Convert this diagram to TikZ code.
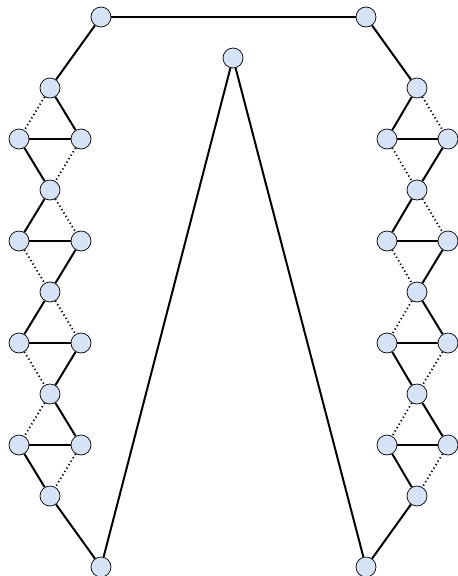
\documentclass[tikz,border=0pt]{standalone}
\begin{document}
\begin{tikzpicture}[x=1pt,y=-1pt,
  vtx/.style={circle,draw=black,line width=0.7pt,fill={rgb,255:red,214;green,226;blue,245},minimum size=20pt,inner sep=0pt},
  sol/.style={line width=2pt},
  dot/.style={line width=1.8pt,dash pattern=on 1.2pt off 2.8pt}]
\useasboundingbox (0,0) rectangle (458,576);
\node[vtx] (TL) at (101,17) {};
\node[vtx] (TR) at (366,17) {};
\node[vtx] (M) at (233,58) {};
\node[vtx] (BL) at (101,567) {};
\node[vtx] (BR) at (366,567) {};
% left chain
\foreach \i/\y in {1/88,2/190,3/292,4/394,5/496} \node[vtx] (L\i) at (50,\y) {};
\foreach \i/\y in {1/139,2/241,3/343,4/445} {
  \node[vtx] (La\i) at (19,\y) {};
  \node[vtx] (Lb\i) at (81,\y) {};
}
% right chain
\foreach \i/\y in {1/88,2/190,3/292,4/394,5/496} \node[vtx] (R\i) at (417,\y) {};
\foreach \i/\y in {1/139,2/241,3/343,4/445} {
  \node[vtx] (Ra\i) at (387,\y) {};
  \node[vtx] (Rb\i) at (448,\y) {};
}
\draw[sol] (TL) -- (TR);
\draw[sol] (M) -- (BL);
\draw[sol] (M) -- (BR);
\draw[sol] (TL) -- (L1);
\draw[sol] (L5) -- (BL);
\draw[sol] (TR) -- (R1);
\draw[sol] (R5) -- (BR);
% left
\draw[dot] (L1) -- (La1); \draw[sol] (L1) -- (Lb1); \draw[sol] (La1) -- (Lb1);
\draw[sol] (La1) -- (L2); \draw[dot] (Lb1) -- (L2);
\draw[sol] (L2) -- (La2); \draw[dot] (L2) -- (Lb2); \draw[sol] (La2) -- (Lb2);
\draw[dot] (La2) -- (L3); \draw[sol] (Lb2) -- (L3);
\draw[sol] (L3) -- (La3); \draw[dot] (L3) -- (Lb3); \draw[sol] (La3) -- (Lb3);
\draw[dot] (La3) -- (L4); \draw[sol] (Lb3) -- (L4);
\draw[dot] (L4) -- (La4); \draw[sol] (L4) -- (Lb4); \draw[sol] (La4) -- (Lb4);
\draw[sol] (La4) -- (L5); \draw[dot] (Lb4) -- (L5);
% right
\draw[sol] (R1) -- (Ra1); \draw[dot] (R1) -- (Rb1); \draw[sol] (Ra1) -- (Rb1);
\draw[dot] (Ra1) -- (R2); \draw[sol] (Rb1) -- (R2);
\draw[sol] (R2) -- (Ra2); \draw[dot] (R2) -- (Rb2); \draw[sol] (Ra2) -- (Rb2);
\draw[dot] (Ra2) -- (R3); \draw[sol] (Rb2) -- (R3);
\draw[dot] (R3) -- (Ra3); \draw[sol] (R3) -- (Rb3); \draw[sol] (Ra3) -- (Rb3);
\draw[sol] (Ra3) -- (R4); \draw[dot] (Rb3) -- (R4);
\draw[dot] (R4) -- (Ra4); \draw[sol] (R4) -- (Rb4); \draw[sol] (Ra4) -- (Rb4);
\draw[sol] (Ra4) -- (R5); \draw[dot] (Rb4) -- (R5);
\end{tikzpicture}
\end{document}
